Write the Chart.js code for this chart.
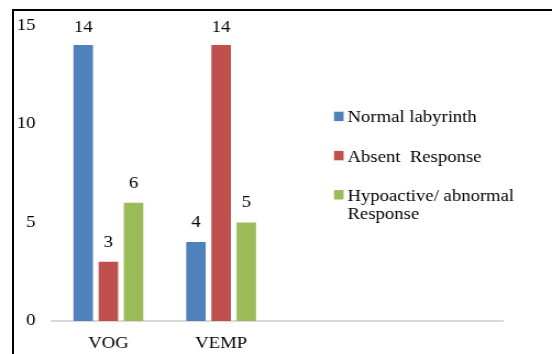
<!DOCTYPE html>
<html>
<head>
<meta charset="utf-8">
<script src="https://cdn.jsdelivr.net/npm/chart.js@4.4.1/dist/chart.umd.min.js"></script>
<style>
    html, body { margin: 0; padding: 0; background: #fff; overflow: hidden; }
    #wrap { position: relative; width: 552px; height: 354px; }
    /* cadre noir (seuls les bords haut et gauche sont visibles) */
    #frame { position: absolute; left: 12px; top: 9px; width: 700px; height: 500px;
             border-left: 2px solid #000; border-top: 2px solid #000; }
    #c { position: absolute; left: 0; top: 0; }
</style>
</head>
<body>
<div id="wrap">
    <div id="frame"></div>
    <canvas id="c" width="502" height="354" style="width:552px;height:354px"></canvas>
</div>
<script>
// Données
const categories = ['VOG', 'VEMP', '', ''];
const normalLabyrinth = [14, 4, null, null];
const absentResponse = [3, 14, null, null];
const hypoactiveResponse = [6, 5, null, null];
const seriesNames = ['Normal labyrinth', 'Absent  Response', 'Hypoactive/ abnormal Response'];
const legendLines = [['Normal labyrinth'], ['Absent  Response'], ['Hypoactive/ abnormal', 'Response']];
const yTicks = [0, 5, 10, 15];

// l'image d'origine est étirée horizontalement
const SX = 552 / 502;
const FONT = { family: "'Liberation Serif', 'Times New Roman', serif", size: 17 };
const fontStr = FONT.size + 'px ' + FONT.family;

// Étiquettes de valeur au-dessus des barres
const valueLabels = {
    id: 'valueLabels',
    afterDatasetsDraw(chart) {
        const ctx = chart.ctx;
        ctx.save();
        ctx.font = fontStr;
        ctx.fillStyle = '#000';
        ctx.textAlign = 'center';
        ctx.textBaseline = 'alphabetic';
        chart.data.datasets.forEach((ds, i) => {
            chart.getDatasetMeta(i).data.forEach((bar, j) => {
                const v = ds.data[j];
                if (v === null || v === undefined) return;
                const y = Math.max(bar.y - 15, chart.chartArea.top + 6.7);
                ctx.fillText(String(v), bar.x, y);
            });
        });
        ctx.restore();
    }
};

// Légende dessinée dans la zone du graphique
const innerLegend = {
    id: 'innerLegend',
    afterDraw(chart) {
        const ctx = chart.ctx;
        ctx.save();
        ctx.font = fontStr;
        ctx.textAlign = 'left';
        ctx.textBaseline = 'alphabetic';
        chart.data.datasets.forEach((ds, i) => {
            const base = 122.3 + i * 39.2;
            ctx.fillStyle = ds.backgroundColor;
            ctx.fillRect(334 / SX, base - 10.6, 9.6 / SX, 9.4);
            ctx.fillStyle = '#000';
            legendLines[i].forEach((t, k) => {
                ctx.fillText(t, 347.5 / SX, base + k * 18.3);
            });
        });
        ctx.restore();
    }
};

new Chart(document.getElementById('c'), {
    type: 'bar',
    data: {
        labels: categories,
        datasets: [
            { label: seriesNames[0], data: normalLabyrinth, backgroundColor: '#4F81BD' },
            { label: seriesNames[1], data: absentResponse, backgroundColor: '#C0504D' },
            { label: seriesNames[2], data: hypoactiveResponse, backgroundColor: '#9BBB59' }
        ]
    },
    options: {
        responsive: false,
        animation: false,
        devicePixelRatio: 1,
        categoryPercentage: 0.67,
        barPercentage: 0.774,
        layout: { padding: { left: 0, right: (552 - 503) / SX, top: 25, bottom: 0 } },
        plugins: {
            legend: { display: false },
            tooltip: { enabled: false }
        },
        scales: {
            x: {
                grid: { display: false, drawTicks: false },
                border: { display: true, color: '#d9d9d9', width: 2 },
                ticks: { font: FONT, color: '#000', padding: 12, autoSkip: false, maxRotation: 0 },
                afterFit: s => { s.height = 33; }
            },
            y: {
                min: 0,
                max: 15,
                grid: { display: false, drawTicks: false },
                border: { display: false },
                ticks: { font: FONT, color: '#000', padding: 15 },
                afterBuildTicks: s => { s.ticks = yTicks.map(v => ({ value: v })); },
                afterFit: s => { s.width = 52 / SX; }
            }
        }
    },
    plugins: [valueLabels, innerLegend]
});
</script>
</body>
</html>
